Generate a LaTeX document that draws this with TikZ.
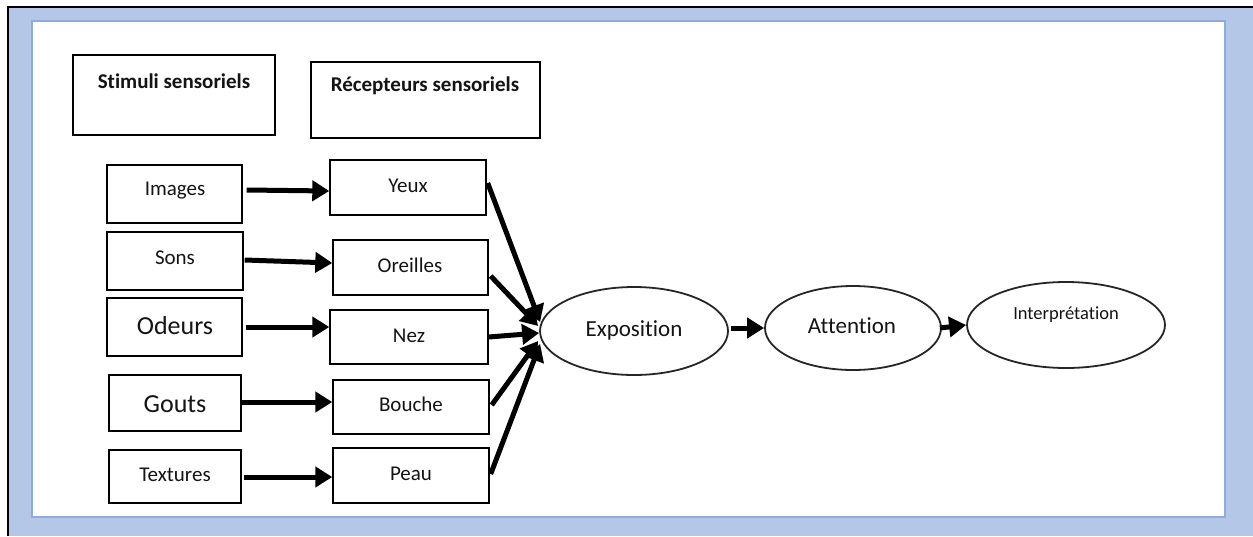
\documentclass[tikz,border=0pt]{standalone}
\usepackage{fontspec}
\setmainfont{Carlito}[Ligatures=NoCommon]
\usetikzlibrary{arrows.meta,shapes.geometric,calc}
\definecolor{bandblue}{HTML}{B4C7E7}
\definecolor{edgeblue}{HTML}{8FAADC}
\definecolor{ink}{HTML}{141414}
\newcommand{\fs}[1]{\fontsize{#1}{#1}\selectfont}
\tikzset{
  box/.style={draw=black, line width=1.4pt, fill=white, inner sep=0pt},
  oval/.style={ellipse, draw=black!85, line width=1.8pt, fill=white, inner sep=0pt},
  lbl/.style={text=ink, inner sep=0pt, font=\fs{21}},
  big/.style={text=ink, inner sep=0pt, font=\fs{26}},
  head/.style={text=ink, inner sep=0pt, font=\bfseries\fs{21}},
  thick arrow/.style={line width=5pt, -{Triangle[length=17pt,width=20pt]}},
}
\begin{document}
\begin{tikzpicture}[x=1pt,y=-1pt]
\useasboundingbox (0,0) rectangle (1253,536);
\fill[white] (0,0) rectangle (1253,536);
% frame: blue band with a black top and left edge
\fill[bandblue] (8,7) rectangle (1253,536);
\draw[black, line width=1.5pt] (8,536) -- (8,7) -- (1253,7);
\fill[white] (32,21) rectangle (1225,517);
\draw[edgeblue, line width=1.5pt] (32,21) rectangle (1225,517);

% column headers
\node[box, minimum width=202pt, minimum height=80pt] (stim) at (174,95) {};
\node[head] (stimt) at (174,81) {Stimuli sensoriels};
\node[box, minimum width=229pt, minimum height=76pt] (recep) at (425.5,100) {};
\node[head] (recept) at (425,86) {Récepteurs sensoriels};

% stimuli
\node[box, minimum width=135pt, minimum height=58pt] (images) at (174.5,194) {};
\node[lbl] (imagest) at (175,191) {Images};
\node[box, minimum width=136pt, minimum height=58pt] (sons) at (175,261) {};
\node[lbl] (sonst) at (175,258) {Sons};
\node[box, minimum width=135pt, minimum height=58pt] (odeurs) at (174.5,327) {};
\node[big] (odeurst) at (175,326) {Odeurs};
\node[box, minimum width=132pt, minimum height=56pt] (gouts) at (175,403) {};
\node[big] (goutst) at (175,404) {Gouts};
\node[box, minimum width=132pt, minimum height=53pt] (textures) at (175,476.5) {};
\node[lbl] (texturest) at (175,475) {Textures};

% receptors
\node[box, minimum width=156pt, minimum height=55pt] (yeux) at (408,187.5) {};
\node[lbl] (yeuxt) at (408,186) {Yeux};
\node[box, minimum width=155pt, minimum height=55pt] (oreilles) at (410.5,267.5) {};
\node[lbl] (oreillest) at (410,265) {Oreilles};
\node[box, minimum width=158pt, minimum height=54pt] (nez) at (409,337) {};
\node[lbl] (nezt) at (409,336) {Nez};
\node[box, minimum width=156pt, minimum height=54pt] (bouche) at (411,407) {};
\node[lbl] (bouchet) at (411,404) {Bouche};
\node[box, minimum width=156pt, minimum height=55pt] (peau) at (411,475.5) {};
\node[lbl] (peaut) at (411,474) {Peau};

% processing stages
\node[oval, minimum width=188pt, minimum height=88pt] (expo) at (634,331) {};
\node[text=ink, inner sep=0pt, font=\fs{23}] (expot) at (634,330) {Exposition};
\node[oval, minimum width=176pt, minimum height=84pt] (att) at (853,328) {};
\node[text=ink, inner sep=0pt, font=\fs{23}] (attt) at (852,326) {Attention};
\node[oval, minimum width=198pt, minimum height=86pt] (interp) at (1066,325) {};
\node[text=ink, inner sep=0pt, font=\fs{18.5}] (interpt) at (1066,315) {Interprétation};

% stimulus -> receptor
\draw[thick arrow] ([xshift=4pt,yshift=4pt]images.east) -- ([yshift=-3.5pt]yeux.west);
\draw[thick arrow] ([xshift=1pt,yshift=1pt]sons.east) -- ([yshift=4.5pt]oreilles.west);
\draw[thick arrow] ([xshift=3pt]odeurs.east) -- ([yshift=10pt]nez.west);
\draw[thick arrow] ([yshift=1pt]gouts.east) -- ([yshift=5pt]bouche.west);
\draw[thick arrow] ([xshift=2pt,yshift=-0.5pt]textures.east) -- ([yshift=-1.5pt]peau.west);

% receptors -> exposition
\draw[thick arrow] ([xshift=1pt,yshift=4.5pt]yeux.east) -- ([xshift=1pt,yshift=9pt]expo.west);
\draw[thick arrow] ([xshift=2pt,yshift=-8.5pt]oreilles.east) -- ([xshift=-1pt,yshift=5pt]expo.west);
\draw[thick arrow] (nez.east) -- ([yshift=-2pt]expo.west);
\draw[thick arrow] ([xshift=2pt,yshift=2pt]bouche.east) -- ([xshift=-1pt,yshift=-10pt]expo.west);
\draw[thick arrow] ([xshift=1pt,yshift=1.5pt]peau.east) -- ([xshift=1pt,yshift=-13pt]expo.west);

% stage to stage
\draw[thick arrow] ([xshift=2pt,yshift=3pt]expo.east) -- (att.west);
\draw[thick arrow] ([xshift=-2pt]att.east) -- (interp.west);
\end{tikzpicture}
\end{document}
